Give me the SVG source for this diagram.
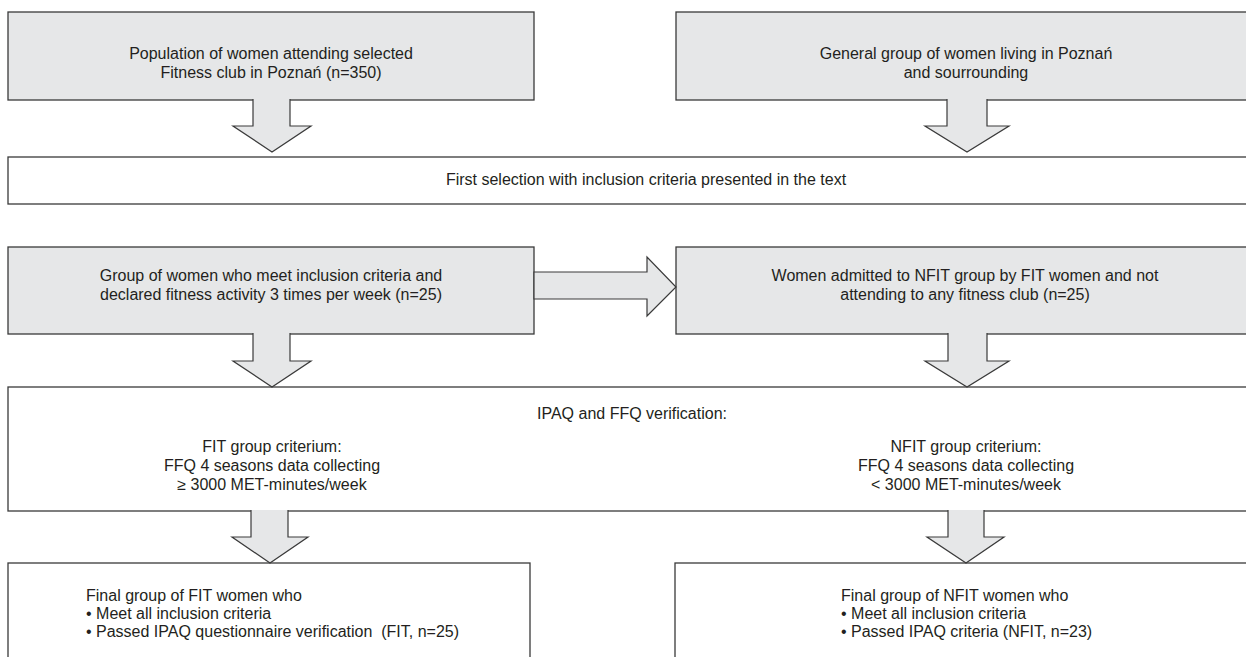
<svg xmlns="http://www.w3.org/2000/svg" width="1246" height="657" viewBox="0 0 1246 657">
<style>
.g{fill:#e6e7e8;stroke:#3a3a3a;stroke-width:1.3}
.w{fill:#ffffff;stroke:#3a3a3a;stroke-width:1.3}
.a{fill:#e6e7e8;stroke:#3a3a3a;stroke-width:1.2;stroke-linejoin:miter}
text{font-family:"Liberation Sans",Arial,sans-serif;font-size:16px;fill:#231f20}
.c{text-anchor:middle}
</style>
<rect width="1246" height="657" fill="#ffffff"/>
<g id="n1"><rect class="g" x="8" y="12" width="526" height="88"/>
<text class="c" x="271" y="59">Population of women attending selected</text>
<text class="c" x="271" y="78">Fitness club in Poznań (n=350)</text></g>
<g id="n2"><rect class="g" x="676" y="12" width="590" height="88"/>
<text class="c" x="966" y="59">General group of women living in Poznań</text>
<text class="c" x="966" y="78">and sourrounding</text></g>
<g id="n3"><rect class="w" x="8" y="157" width="1260" height="47"/>
<text class="c" x="646" y="185">First selection with inclusion criteria presented in the text</text></g>
<g id="n4"><rect class="g" x="8" y="247" width="526" height="87"/>
<text class="c" x="271" y="281">Group of women who meet inclusion criteria and</text>
<text class="c" x="271" y="300">declared fitness activity 3 times per week (n=25)</text></g>
<g id="n5"><rect class="g" x="676" y="247" width="590" height="87"/>
<text class="c" x="965" y="281">Women admitted to NFIT group by FIT women and not</text>
<text class="c" x="965" y="300">attending to any fitness club (n=25)</text></g>
<g id="n6"><rect class="w" x="8" y="387" width="1260" height="124"/>
<text class="c" x="632" y="419">IPAQ and FFQ verification:</text>
<text class="c" x="272" y="452">FIT group criterium:</text>
<text class="c" x="272" y="471">FFQ 4 seasons data collecting</text>
<text class="c" x="272" y="490">≥ 3000 MET-minutes/week</text>
<text class="c" x="966" y="452">NFIT group criterium:</text>
<text class="c" x="966" y="471">FFQ 4 seasons data collecting</text>
<text class="c" x="966" y="490">&lt; 3000 MET-minutes/week</text></g>
<g id="n7"><rect class="w" x="8" y="563" width="522" height="110"/>
<text x="86" y="601">Final group of FIT women who</text>
<text x="86" y="619">• Meet all inclusion criteria</text>
<text x="86" y="637" xml:space="preserve">• Passed IPAQ questionnaire verification  (FIT, n=25)</text></g>
<g id="n8"><rect class="w" x="675" y="563" width="600" height="110"/>
<text x="841" y="601">Final group of NFIT women who</text>
<text x="841" y="619">• Meet all inclusion criteria</text>
<text x="841" y="637">• Passed IPAQ criteria (NFIT, n=23)</text></g>
<g id="connectors">
<path class="a" d="M253 99 V126 H233 L272 152 L311 126 H290 V99"/>
<path class="a" d="M947 99 V126 H925 L967 152 L1009 126 H987 V99"/>
<path class="a" d="M534 272 H647 V257 L676 287 L647 316 V299 H534 Z"/>
<path class="a" d="M253 333 V361 H233 L272 387 L311 361 H290 V333"/>
<path class="a" d="M948 333 V361 H925 L967 387 L1009 361 H987 V333"/>
<path class="a" d="M251 510 V537 H232 L270 563 L308 537 H288 V510"/>
<path class="a" d="M948 510 V537 H927 L966 563 L1004 537 H984 V510"/>
</g>
</svg>
